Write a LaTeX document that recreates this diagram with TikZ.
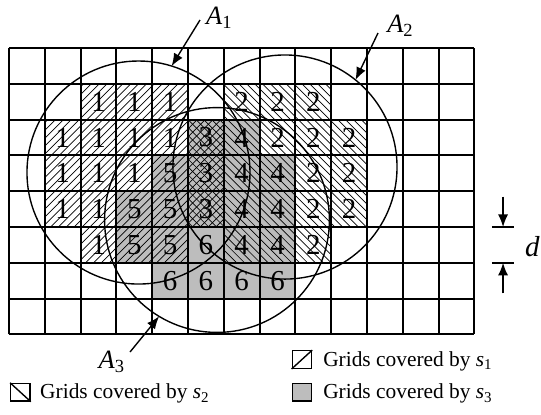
\documentclass[tikz,border=0pt]{standalone}
\usepackage{fontspec}
\setmainfont{Liberation Serif}
\usetikzlibrary{arrows.meta,calc}
\definecolor{cellgray}{gray}{0.74}
\begin{document}
\begin{tikzpicture}[x=1cm,y=1cm,
  gridline/.style={line width=1.5pt},
  circ/.style={line width=1.1pt},
  hatchline/.style={line width=0.55pt},
  digit/.style={font=\fontsize{23}{23}\selectfont, inner sep=0pt},
  lbl/.style={font=\fontsize{21}{21}\selectfont\itshape, inner sep=0pt},
  legtext/.style={font=\fontsize{17}{17}\selectfont, anchor=base west, inner sep=0pt},
  legbox/.style={draw, line width=1.1pt, minimum width=0.54cm, minimum height=0.49cm, inner sep=0pt},
  ptr/.style={line width=1.1pt, -{Latex[length=10pt,width=8pt]}},
  tick/.style={line width=1.2pt}]
\useasboundingbox (-0.251,-2.223) rectangle (14.86,9.341);

% gray cells (s3)
\fill[cellgray] foreach \c/\r in {5/2,6/2,4/3,5/3,6/3,7/3,3/4,4/4,5/4,6/4,7/4,3/5,4/5,5/5,6/5,7/5,4/6,5/6,6/6,7/6}
  {(\c,7-\r) rectangle ++(1,1)};

% s1 hatching
\begin{scope}
\clip foreach \c/\r in {2/1,3/1,4/1,1/2,2/2,3/2,4/2,5/2,1/3,2/3,3/3,4/3,5/3,1/4,2/4,3/4,4/4,5/4,2/5,3/5,4/5}
  {(\c,7-\r) rectangle ++(1,1)};
\foreach \i in {0,...,100} \draw[hatchline] ({-8+0.22*\i},0) -- ++(8,8);
\end{scope}

% s2 hatching
\begin{scope}
\clip foreach \c/\r in {6/1,7/1,8/1,5/2,6/2,7/2,8/2,9/2,5/3,6/3,7/3,8/3,9/3,5/4,6/4,7/4,8/4,9/4,6/5,7/5,8/5}
  {(\c,7-\r) rectangle ++(1,1)};
\foreach \i in {0,...,100} \draw[hatchline] ({-8+0.22*\i},8) -- ++(8,-8);
\end{scope}

% grid
\draw[gridline] (0,0) grid (13,8);

% digits
\foreach \c/\r/\l in {2/1/1,3/1/1,4/1/1,6/1/2,7/1/2,8/1/2,
  1/2/1,2/2/1,3/2/1,4/2/1,5/2/3,6/2/4,7/2/2,8/2/2,9/2/2,
  1/3/1,2/3/1,3/3/1,4/3/5,5/3/3,6/3/4,7/3/4,8/3/2,9/3/2,
  1/4/1,2/4/1,3/4/5,4/4/5,5/4/3,6/4/4,7/4/4,8/4/2,9/4/2,
  2/5/1,3/5/5,4/5/5,5/5/6,6/5/4,7/5/4,8/5/2,
  4/6/6,5/6/6,6/6/6,7/6/6}
  \node[digit] (n\c-\r) at ({\c+0.5},{7.5-\r}) {\l};

% circles
\coordinate (c1) at (3.617,4.522);
\coordinate (c2) at (7.709,4.676);
\coordinate (c3) at (5.81,3.196);
\draw[circ] (c1) circle (3.115);
\draw[circ] (c2) circle (3.13);
\draw[circ] (c3) circle (3.14);

% circle labels
\node[lbl, anchor=west] (A1) at (5.50,8.84) {A\textsubscript{\upshape 1}};
\node[lbl, anchor=west] (A2) at (10.56,8.62) {A\textsubscript{\upshape 2}};
\node[lbl, anchor=west] (A3) at (2.50,-0.77) {A\textsubscript{\upshape 3}};
\coordinate (t1) at (5.335,8.782);
\coordinate (t2) at (10.307,8.419);
\coordinate (t3) at (3.38,-0.492);
\draw[ptr] (t1) -- ($(c1)+(72.7:3.115)$);
\draw[ptr] (t2) -- ($(c2)+(51:3.13)$);
\draw[ptr] (t3) -- ($(c3)+(239:3.14)$);

% dimension d
\coordinate (dt1) at (13.49,3);
\coordinate (dt2) at (14.11,3);
\coordinate (db1) at (13.49,2);
\coordinate (db2) at (14.11,2);
\draw[tick] (dt1) -- (dt2);
\draw[tick] (db1) -- (db2);
\coordinate (da) at (13.8,3.85);
\coordinate (dat) at (13.8,3);
\coordinate (db) at (13.8,1.15);
\coordinate (dbt) at (13.8,2);
\draw[ptr] (da) -- (dat);
\draw[ptr] (db) -- (dbt);
\node[font=\fontsize{23}{23}\selectfont\itshape, inner sep=0pt] (dlab) at (14.62,2.45) {d};

% legend
\node[legbox] (k1) at (8.182,-0.701) {};
\draw[line width=1.1pt] (k1.south west) -- (k1.north east);
\node[legtext] (l1) at (8.771,-0.902) {Grids covered by \textit{s}\textsubscript{1}};
\node[legbox] (k2) at (0.32,-1.615) {};
\draw[line width=1.1pt] (k2.north west) -- (k2.south east);
\node[legtext] (l2) at (0.866,-1.80) {Grids covered by \textit{s}\textsubscript{2}};
\node[legbox, fill=cellgray] (k3) at (8.182,-1.615) {};
\node[legtext] (l3) at (8.771,-1.80) {Grids covered by \textit{s}\textsubscript{3}};
\end{tikzpicture}
\end{document}
